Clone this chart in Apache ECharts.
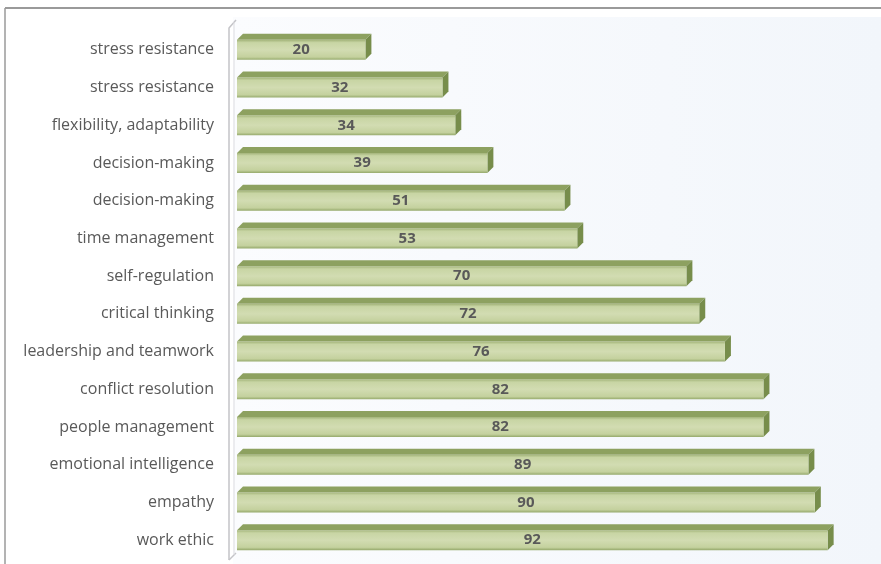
<!DOCTYPE html>
<html>
<head>
<meta charset="utf-8">
<script src="https://cdn.jsdelivr.net/npm/echarts@6/dist/echarts.min.js"></script>
<style>
  html, body { margin: 0; padding: 0; background: #ffffff; }
  #chart { width: 881px; height: 564px; }
</style>
</head>
<body>
<div id="chart"></div>
<script>
// Skills, listed from top to bottom
const categories = [
  'stress resistance',
  'stress resistance',
  'flexibility, adaptability',
  'decision-making',
  'decision-making',
  'time management',
  'self-regulation',
  'critical thinking',
  'leadership and teamwork',
  'conflict resolution',
  'people management',
  'emotional intelligence',
  'empathy',
  'work ethic'
];
const scores = [20, 32, 34, 39, 51, 53, 70, 72, 76, 82, 82, 89, 90, 92];
const axisMax = 100;

const chart = echarts.init(document.getElementById('chart'), null, { renderer: 'canvas' });

// Bars are drawn as pseudo-3D blocks: front face, top face and end face
function renderBlock(params, api) {
  const v = api.value(0);
  const idx = api.value(1);
  const start = api.coord([0, idx]);
  const end = api.coord([v, idx]);
  const h = 20, dx = 6, dy = 6;
  const x0 = start[0], x1 = end[0];
  const yTop = start[1] - h / 2, yBot = start[1] + h / 2;
  return {
    type: 'group',
    children: [
      {
        type: 'polygon',
        shape: { points: [[x0, yTop], [x0 + dx, yTop - dy], [x1 + dx, yTop - dy], [x1, yTop]] },
        style: { fill: '#8da160' }
      },
      {
        type: 'polygon',
        shape: { points: [[x1, yTop], [x1 + dx, yTop - dy], [x1 + dx, yBot - dy], [x1, yBot]] },
        style: { fill: '#778d4b' }
      },
      {
        type: 'rect',
        shape: { x: x0, y: yTop, width: x1 - x0, height: h },
        style: {
          fill: new echarts.graphic.LinearGradient(0, 0, 0, 1, [
            { offset: 0, color: '#a3b47a' },
            { offset: 0.14, color: '#c8d5a4' },
            { offset: 0.5, color: '#d2dcb2' },
            { offset: 0.86, color: '#c4d19e' },
            { offset: 1, color: '#95a96b' }
          ])
        }
      },
      {
        type: 'text',
        x: (x0 + x1) / 2,
        y: start[1],
        style: {
          text: String(v),
          fill: '#595959',
          font: 'bold 15px "Open Sans", Lato, sans-serif',
          align: 'center',
          verticalAlign: 'middle'
        }
      }
    ]
  };
}

const option = {
  animation: false,
  backgroundColor: '#ffffff',
  graphic: [
    // outer frame
    { type: 'line', shape: { x1: 5, y1: 8, x2: 881, y2: 8 }, style: { stroke: '#9a9a9a', lineWidth: 2 }, z: 10 },
    { type: 'line', shape: { x1: 5, y1: 8, x2: 5, y2: 564 }, style: { stroke: '#9a9a9a', lineWidth: 1.5 }, z: 10 },
    // plot backdrop
    {
      type: 'rect', z: -10,
      shape: { x: 233, y: 17, width: 648, height: 547 },
      style: {
        fill: new echarts.graphic.LinearGradient(0, 0, 1, 0, [
          { offset: 0, color: '#fbfcfe' },
          { offset: 1, color: '#f2f6fb' }
        ])
      }
    },
    // side wall edge
    {
      type: 'polyline', z: 5,
      shape: { points: [[229, 560], [229, 28], [236, 20]] },
      style: { stroke: '#c4c4c8', lineWidth: 1.5, fill: null }
    },
    {
      type: 'polyline', z: 5,
      shape: { points: [[229, 560], [236, 553]] },
      style: { stroke: '#c4c4c8', lineWidth: 1.5, fill: null }
    },
    {
      type: 'line', z: 5,
      shape: { x1: 234, y1: 22, x2: 234, y2: 555 },
      style: { stroke: '#dcdce0', lineWidth: 1 }
    }
  ],
  grid: { left: 237, right: 2, top: 31, height: 528, containLabel: false },
  xAxis: {
    type: 'value', min: 0, max: axisMax,
    show: false, splitLine: { show: false }
  },
  yAxis: {
    type: 'category',
    data: categories,
    inverse: true,
    axisLine: { show: false },
    axisTick: { show: false },
    axisLabel: {
      color: '#595959',
      fontSize: 16,
      fontFamily: '"Open Sans", Lato, sans-serif',
      margin: 23
    }
  },
  series: [{
    type: 'custom',
    renderItem: renderBlock,
    encode: { x: 0, y: 1 },
    data: scores.map((v, i) => [v, i]),
    clip: false
  }]
};

chart.setOption(option);
</script>
</body>
</html>
